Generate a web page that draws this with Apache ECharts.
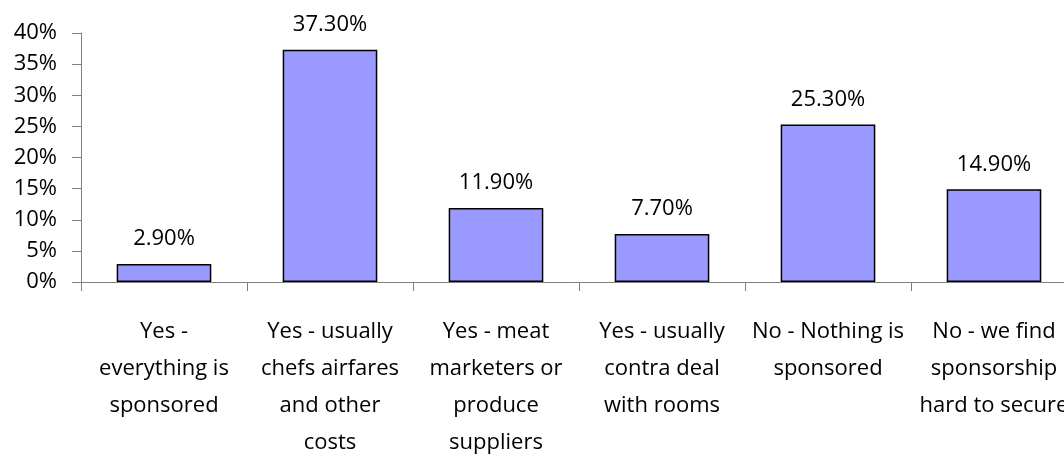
<!DOCTYPE html>
<html>
<head>
<meta charset="utf-8">
<script src="https://cdn.jsdelivr.net/npm/echarts@6/dist/echarts.min.js"></script>
<style>
  html, body { margin: 0; padding: 0; background: #fff; }
  #chart { width: 1064px; height: 457px; }
</style>
</head>
<body>
<div id="chart"></div>
<script>
// Survey answers: is the event sponsored?
const categories = [
  'Yes -\neverything is\nsponsored',
  'Yes - usually\nchefs airfares\nand other\ncosts',
  'Yes - meat\nmarketers or\nproduce\nsuppliers',
  'Yes - usually\ncontra deal\nwith rooms',
  'No - Nothing is\nsponsored',
  'No - we find\nsponsorship\nhard to secure'
];
// Share of respondents, in percent
const shares = [2.9, 37.3, 11.9, 7.7, 25.3, 14.9];
// Value axis range and step, in percent
const yMin = 0;
const yMax = 40;
const yStep = 5;

const font = '"Open Sans", "Noto Sans", sans-serif';
const chart = echarts.init(document.getElementById('chart'), null, { renderer: 'canvas' });
chart.setOption({
  animation: false,
  backgroundColor: '#ffffff',
  // the last category runs a little past the right edge of the canvas
  grid: {
    left: 81, top: 33, width: 996, height: 249,
    containLabel: false,
    outerBoundsMode: 'none'
  },
  xAxis: {
    type: 'category',
    data: categories,
    axisLine: { show: true, lineStyle: { color: '#808080', width: 1 } },
    axisTick: { show: true, length: 9, lineStyle: { color: '#808080' } },
    axisLabel: {
      interval: 0,
      margin: 31,
      color: '#000',
      fontFamily: font,
      fontSize: 22,
      lineHeight: 37,
      align: 'center'
    }
  },
  yAxis: {
    type: 'value',
    min: yMin,
    max: yMax,
    interval: yStep,
    axisLine: { show: true, lineStyle: { color: '#808080', width: 1 } },
    axisTick: { show: true, length: 9, lineStyle: { color: '#808080' } },
    splitLine: { show: false },
    axisLabel: {
      formatter: '{value}%',
      margin: 24,
      color: '#000',
      fontFamily: font,
      fontSize: 22
    }
  },
  series: [{
    type: 'bar',
    data: shares,
    barWidth: '57%',
    itemStyle: { color: '#9999FF', borderColor: '#000', borderWidth: 1.5 },
    label: {
      show: true,
      position: 'top',
      distance: 14,
      color: '#000',
      fontFamily: font,
      fontSize: 22,
      formatter: p => p.value.toFixed(2) + '%'
    }
  }]
});
</script>
</body>
</html>
